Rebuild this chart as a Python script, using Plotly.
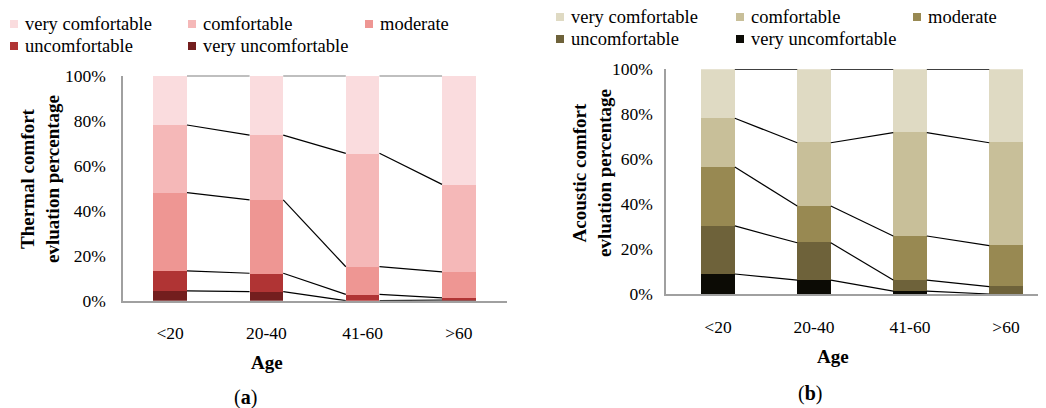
import numpy as np
import plotly.graph_objects as go

# ---------------- data ----------------
categories = ["<20", "20-40", "41-60", ">60"]
levels = ["very uncomfortable", "uncomfortable", "moderate", "comfortable", "very comfortable"]

# percentages per age group (bottom -> top of the stack)
thermal_very_uncomfortable = [4.4, 4.0, 0.0, 0.3]
thermal_uncomfortable = [8.9, 8.2, 2.8, 1.0]
thermal_moderate = [34.7, 32.6, 12.3, 11.5]
thermal_comfortable = [30.1, 28.8, 50.4, 38.9]
thermal_very_comfortable = [21.9, 26.4, 34.5, 48.3]

acoustic_very_uncomfortable = [8.9, 6.2, 1.3, 0.0]
acoustic_uncomfortable = [21.4, 16.6, 4.9, 3.3]
acoustic_moderate = [26.2, 16.4, 19.6, 18.2]
acoustic_comfortable = [21.7, 28.1, 46.0, 45.8]
acoustic_very_comfortable = [21.8, 32.7, 28.2, 32.7]

thermal_colors = ["#731E1E", "#B03434", "#EE9693", "#F5B8B8", "#FADCDE"]
acoustic_colors = ["#0C0B05", "#6E623A", "#988952", "#C8BF99", "#DFDAC3"]

FONT = "Liberation Serif, Times New Roman, serif"
BAR_W = 0.35

thermal = [thermal_very_uncomfortable, thermal_uncomfortable, thermal_moderate,
           thermal_comfortable, thermal_very_comfortable]
acoustic = [acoustic_very_uncomfortable, acoustic_uncomfortable, acoustic_moderate,
            acoustic_comfortable, acoustic_very_comfortable]

OFF = 8  # page body margin
W, H = 1046 - OFF, 408 - OFF
fig = go.Figure()
xpos = np.arange(len(categories))


def add_chart(series, colors, xa, ya):
    for name, vals, col in zip(levels, series, colors):
        fig.add_trace(go.Bar(
            x=xpos, y=np.array(vals) / 100.0, width=BAR_W, name=name,
            marker=dict(color=col, line=dict(width=0)),
            xaxis=xa, yaxis=ya, showlegend=False))
    cum = np.cumsum(np.array(series) / 100.0, axis=0)
    lx, ly = [], []
    for k in range(cum.shape[0]):
        for i in range(len(categories) - 1):
            lx += [xpos[i] + BAR_W / 2, xpos[i + 1] - BAR_W / 2, None]
            ly += [cum[k][i], cum[k][i + 1], None]
    fig.add_trace(go.Scatter(x=lx, y=ly, mode="lines",
                             line=dict(color="black", width=1.2),
                             xaxis=xa, yaxis=ya, showlegend=False, hoverinfo="skip"))


add_chart(thermal, thermal_colors, "x", "y")
add_chart(acoustic, acoustic_colors, "x2", "y2")


def px_x(p):
    return (p - OFF) / W


def px_y(p):
    return 1 - (p - OFF) / H


axis_common = dict(showgrid=False, zeroline=False, showline=True, automargin=False,
                   linecolor="#A0A0A0", linewidth=1.5, ticks="",
                   tickfont=dict(family=FONT, size=17.5, color="black"))

fig.update_layout(
    template="none",
    width=W, height=H, barmode="stack", bargap=0,
    paper_bgcolor="white", plot_bgcolor="white",
    margin=dict(l=0, r=0, t=0, b=0, pad=0, autoexpand=False),
    font=dict(family=FONT, color="black"),
    showlegend=False,
    xaxis=dict(domain=[px_x(123), px_x(507)], range=[-0.49, 3.5],
               tickvals=list(xpos), ticktext=categories, anchor="y",
               ticklabelstandoff=16, **axis_common),
    yaxis=dict(domain=[px_y(300.7), px_y(75.7)], range=[0, 1],
               tickvals=[0, 0.2, 0.4, 0.6, 0.8, 1.0], tickformat=".0%",
               anchor="x", ticklabelstandoff=12, **axis_common),
    xaxis2=dict(domain=[px_x(666), px_x(1045)], range=[-0.542, 3.406],
                tickvals=list(xpos), ticktext=categories, anchor="y2",
                ticklabelstandoff=16, **axis_common),
    yaxis2=dict(domain=[px_y(294), px_y(69.3)], range=[0, 1],
                tickvals=[0, 0.2, 0.4, 0.6, 0.8, 1.0], tickformat=".0%",
                anchor="x2", ticklabelstandoff=8, **axis_common),
)

ann = []
shapes = []


def legend_item(mx, my, color, text):
    shapes.append(dict(type="rect", xref="paper", yref="paper",
                       x0=px_x(mx), x1=px_x(mx + 8), y0=px_y(my + 4), y1=px_y(my - 4),
                       fillcolor=color, line=dict(width=0)))
    ann.append(dict(x=px_x(mx + 13), y=px_y(my), xref="paper", yref="paper",
                    text=text, showarrow=False, xanchor="left", yanchor="middle",
                    font=dict(family=FONT, size=18.5, color="black")))


# legends: order as in reference (top row then bottom row)
leg_order = [4, 3, 2, 1, 0]
left_pos = [(10, 24), (188, 24), (365, 24), (10, 46), (188, 46)]
right_pos = [(556, 17), (736, 17), (913, 17), (556, 39), (736, 39)]
for idx, (lp, rp) in zip(leg_order, zip(left_pos, right_pos)):
    legend_item(lp[0], lp[1], thermal_colors[idx], levels[idx])
    legend_item(rp[0], rp[1], acoustic_colors[idx], levels[idx])


def label(x, y, text, size, angle=0):
    ann.append(dict(x=px_x(x), y=px_y(y), xref="paper", yref="paper", text=text,
                    textangle=angle, showarrow=False, xanchor="center", yanchor="middle",
                    font=dict(family=FONT, size=size, color="black")))


label(40, 179, "<b>Thermal comfort<br>evluation percentage</b>", 19, -90)
label(592, 173, "<b>Acoustic comfort<br>evluation percentage</b>", 19, -90)
label(267, 362, "<b>Age</b>", 19)
label(833, 356, "<b>Age</b>", 19)
label(245, 397, "(<b>a</b>)", 20)
label(810, 393, "(<b>b</b>)", 20)

fig.update_layout(annotations=ann, shapes=shapes)
fig.write_html("out.html")
